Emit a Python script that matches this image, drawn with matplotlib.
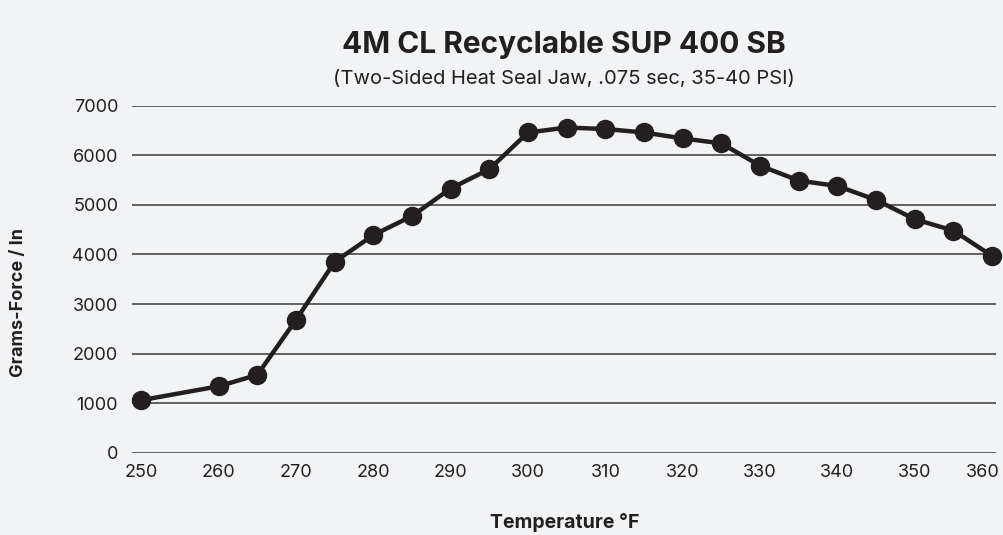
import matplotlib.pyplot as plt
from matplotlib.transforms import ScaledTranslation

temps = [250, 260, 265, 270, 275, 280, 285, 290, 295, 300, 305,
         310, 315, 320, 325, 330, 335, 340, 345, 350, 355, 360]
force = [1060, 1340, 1570, 2680, 3850, 4390, 4775, 5330, 5720, 6460, 6560,
         6530, 6460, 6340, 6240, 5790, 5490, 5380, 5100, 4710, 4480, 3970]
x_ticks = list(range(250, 361, 10))
y_ticks = list(range(0, 7001, 1000))

bg = "#F2F3F5"
ink = "#231F20"

plt.rcParams["font.family"] = ["Inter", "DejaVu Sans"]

fig = plt.figure(figsize=(10.04, 5.35), dpi=100, facecolor=bg)
ax = fig.add_axes([0.1315, 0.1538, 0.8605, 0.6486], facecolor=bg)

ax.plot(temps, force, color=ink, lw=3.2, marker="o", ms=13, clip_on=False, zorder=3)

ax.set_xlim(248.8, 360.5)
ax.set_ylim(0, 7000)
ax.set_xticks(x_ticks)
ax.set_yticks(y_ticks)
ax.yaxis.grid(True, color="#555555", lw=1.3)
ax.set_axisbelow(True)
for s in ax.spines.values():
    s.set_visible(False)
ax.tick_params(length=0, labelsize=13, colors=ink)
ax.tick_params(axis="x", pad=8)
ax.tick_params(axis="y", pad=10)

# last x label sits against the right edge, as in the source chart
last = ax.get_xticklabels()[-1]
last.set_horizontalalignment("right")
last.set_transform(last.get_transform() + ScaledTranslation(0.08, 0, fig.dpi_scale_trans))

fig.text(0.018, 0.435, "Grams-Force / In", rotation=90, ha="center", va="center",
         fontsize=13, fontweight="bold", color=ink)
fig.text(0.562, 0.024, "Temperature °F", ha="center", va="center",
         fontsize=14, fontweight="bold", color=ink)
fig.text(0.562, 0.915, "4M CL Recyclable SUP 400 SB", ha="center", va="center",
         fontsize=21.5, fontweight="bold", color=ink)
fig.text(0.562, 0.853, "(Two-Sided Heat Seal Jaw, .075 sec, 35-40 PSI)", ha="center",
         va="center", fontsize=14.5, color=ink)

fig.savefig("out.png", dpi=100, facecolor=bg)
